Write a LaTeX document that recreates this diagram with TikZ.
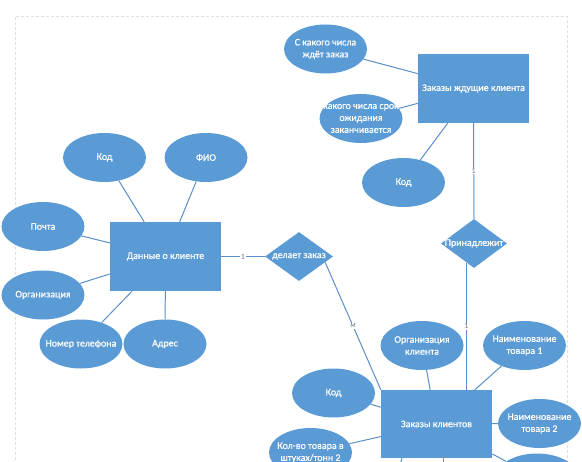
\documentclass[tikz,border=0pt]{standalone}
\usepackage{fontspec}
\setmainfont{Carlito}
\newfontfamily\wfont{Carlito}[FakeBold=0.6]
\usetikzlibrary{shapes.geometric,calc}
\definecolor{eblue}{HTML}{5B9BD5}
\definecolor{eline}{HTML}{5B8FC8}
\definecolor{lblgray}{HTML}{6A7A8A}
\begin{document}
\begin{tikzpicture}[x=1bp,y=-1bp,
  txt/.style={text=white,align=center,font=\wfont\fontsize{10}{12}\selectfont,inner sep=0pt},
  attr/.style={ellipse,fill=eblue,minimum width=83bp,minimum height=49bp,inner sep=0pt},
  ent/.style={rectangle,fill=eblue,minimum width=111bp,minimum height=69bp,inner sep=0pt,text=white,align=center,font=\wfont\fontsize{10}{12}\selectfont},
  rel/.style={diamond,fill=eblue,minimum width=68bp,minimum height=49bp,inner sep=0pt},
  conn/.style={draw=eline,line width=1bp},
  card/.style={fill=white,inner sep=0.8bp,text=lblgray,font=\fontsize{8}{9}\selectfont}]
\useasboundingbox (0,0) rectangle (582,462);
\clip (0,0) rectangle (582,462);
% page border
\draw[gray!25,line width=0.6bp,dash pattern=on 3bp off 2bp] (15,470) |- (567,16) -- (567,470);

% upper right entity
\node[ent] (zk1) at (473.5,88.5) {Заказы ждущие клиента};
\node[attr,label={[txt]center:С какого числа\\ждёт заказ}] (ozh) at (325.5,49) {};
\node[attr,label={[txt]center:какого числа срок\\ожидания\\заканчивается}] (srok) at (361,118.5) {};
\node[attr,label={[txt]center:Код}] (kod1) at (403.5,182.5) {};
\node[rel,minimum width=66bp,label={[txt]center:Принадлежит}] (pr) at (474,243.5) {};

% left entity
\node[ent] (dk) at (165.5,256.5) {Данные о клиенте};
\node[attr,label={[txt]center:Код}] (kodL) at (104.5,157.5) {};
\node[attr,label={[txt]center:ФИО}] (fio) at (206,157.5) {};
\node[attr,label={[txt]center:Почта}] (pochta) at (43,226.5) {};
\node[attr,label={[txt]center:Организация}] (org) at (43,295) {};
\node[attr,label={[txt]center:Номер телефона}] (tel) at (81,344) {};
\node[attr,label={[txt]center:Адрес}] (adr) at (165,344) {};
\node[rel,label={[txt]center:делает заказ}] (dz) at (299,256.5) {};

% lower entity
\node[ent,minimum height=68bp] (zk) at (436.5,424) {Заказы клиентов};
\node[attr,label={[txt]center:Организация\\клиента}] (orgk) at (422,345.5) {};
\node[attr,label={[txt]center:Наименование\\товара 1}] (nt1) at (524.5,345.5) {};
\node[attr,label={[txt]center:Код}] (kod2) at (333.5,393) {};
\node[attr,label={[txt]center:Наименование\\товара 2}] (nt2) at (539.5,423.5) {};
\node[attr,label={[txt]center:Кол-во товара в\\штуках/тонн 2}] (kol) at (310.5,452.5) {};
\node[attr] (nt3) at (537,478) {};
\coordinate (c1) at (395,480);
\coordinate (c2) at (443,480);

% connectors
\draw[conn] (ozh) -- (zk1);
\draw[conn] (srok) -- (zk1);
\draw[conn] (kod1) -- (zk1);
\draw[conn] (zk1.south) -- node[card,pos=0.5]{1} (pr.north);
\coordinate (p1) at ($(pr.west)!0.77!(pr.south)$);
\draw[conn] (p1) -- node[card,pos=0.5]{1} (p1 |- zk.north);

\draw[conn] (kodL) -- (dk);
\draw[conn] (fio) -- (dk);
\draw[conn] (pochta) -- (dk);
\draw[conn] (org) -- (dk);
\draw[conn] (tel) -- (dk);
\draw[conn] (adr) -- (dk);
\draw[conn] (dk) -- node[card]{1} (dz);
\coordinate (p2) at ($(dz.east)!0.235!(dz.south)$);
\draw[conn] (p2) -- node[card,pos=0.5]{м} (zk.north west);

\draw[conn] (orgk) -- (zk);
\draw[conn] (nt1) -- (zk);
\draw[conn] (kod2) -- (zk);
\draw[conn] (nt2) -- (zk);
\draw[conn] (kol) -- (zk);
\draw[conn] (nt3) -- (zk);
\draw[conn] (zk.south -| 402,0) -- (c1);
\draw[conn] (zk.south -| c2) -- (c2);
\end{tikzpicture}
\end{document}
